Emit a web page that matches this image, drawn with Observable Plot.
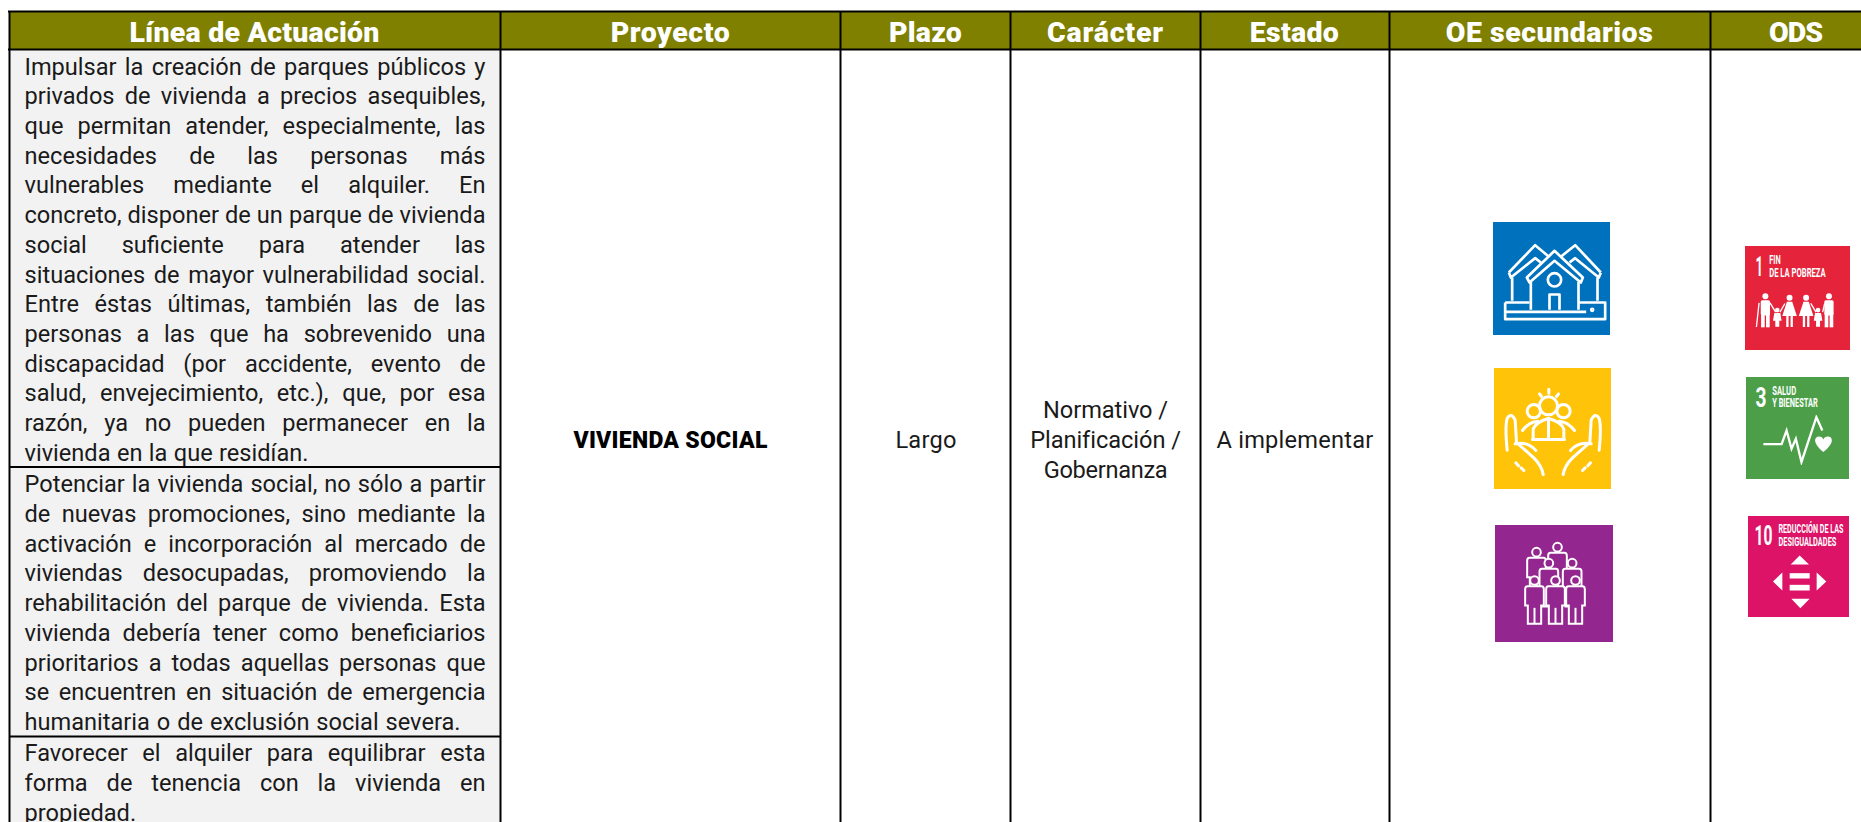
<!DOCTYPE html>
<html lang="es">
<head>
<meta charset="utf-8">
<script src="https://cdn.jsdelivr.net/npm/d3@7"></script>
<script src="https://cdn.jsdelivr.net/npm/@observablehq/plot@0.6"></script>
<style>
html,body{margin:0;padding:0;background:#fff;overflow:hidden}
svg{display:block}
</style>
</head>
<body>
<div id="chart"></div>
<script>
// ---- content ----
const columnas = ["Línea de Actuación","Proyecto","Plazo","Carácter","Estado","OE secundarios","ODS"];
const linea1 = [
"Impulsar la creación de parques públicos y",
"privados de vivienda a precios asequibles,",
"que permitan atender, especialmente, las",
"necesidades de las personas más",
"vulnerables mediante el alquiler. En",
"concreto, disponer de un parque de vivienda",
"social suficiente para atender las",
"situaciones de mayor vulnerabilidad social.",
"Entre éstas últimas, también las de las",
"personas a las que ha sobrevenido una",
"discapacidad (por accidente, evento de",
"salud, envejecimiento, etc.), que, por esa",
"razón, ya no pueden permanecer en la",
"vivienda en la que residían."];
const linea2 = [
"Potenciar la vivienda social, no sólo a partir",
"de nuevas promociones, sino mediante la",
"activación e incorporación al mercado de",
"viviendas desocupadas, promoviendo la",
"rehabilitación del parque de vivienda. Esta",
"vivienda debería tener como beneficiarios",
"prioritarios a todas aquellas personas que",
"se encuentren en situación de emergencia",
"humanitaria o de exclusión social severa."];
const linea3 = [
"Favorecer el alquiler para equilibrar esta",
"forma de tenencia con la vivienda en",
"propiedad."];
const proyecto = "VIVIENDA SOCIAL";
const plazo = "Largo";
const caracter = ["Normativo /","Planificación /","Gobernanza"];
const estado = "A implementar";
const ods = [["1","FIN","DE LA POBREZA"],["3","SALUD","Y BIENESTAR"],["10","REDUCCIÓN DE LAS","DESIGUALDADES"]];

// ---- layout ----
const W = 1861, H = 822;
const edges = [9,500,840,1010,1200,1389,1710,W];
const headTop = 11, headBottom = 49;
const rowLines = [466.5,736];
const headCenters = [254,670,925,1105,1294,1549,1795];
const headWidths = [250,119,73,116,89,207,54];
const FONT = "Roboto, 'Liberation Sans', sans-serif";
const NARROW = "'Liberation Sans Narrow','Roboto',sans-serif";
const bodySize = 23.6;
const textX = 24, textWidth = 461;

const canvas = document.createElement("canvas").getContext("2d");
const measure = (s, font) => { canvas.font = font; return canvas.measureText(s).width; };

// body lines with their baseline and target width
const lastWidths = {0:284, 1:436, 2:111};
const firstBase = [74,491.7,760.7], step = 29.72;
const bodyRows = [linea1,linea2,linea3].flatMap((ls,b)=>ls.map((t,k)=>({
  t, x:textX, y:firstBase[b]+k*step, w:k===ls.length-1?lastWidths[b]:textWidth
})));

// justify: word spacing reaches target width
const justify = (font) => (index, scales, values, dims, ctx, next) => {
  const g = next(index, scales, values, dims, ctx);
  d3.select(g).selectAll("text").each(function(){
    const row = bodyRows[d3.select(this).datum()], spaces = row.t.split(" ").length-1;
    const sp = spaces? (row.w-measure(row.t,font))/spaces : 0;
    this.setAttribute("word-spacing", sp.toFixed(2));
  });
  return g;
};
// fit: letter spacing reaches a target width
const fitLetters = (rows,font) => (index, scales, values, dims, ctx, next) => {
  const g = next(index, scales, values, dims, ctx);
  d3.select(g).selectAll("text").each(function(){
    const r = rows[d3.select(this).datum()];
    const ls = (r.w-measure(r.t,font))/Math.max(1,r.t.length-1);
    this.setAttribute("letter-spacing", ls.toFixed(2));
  });
  return g;
};
// squeeze: label scaled horizontally to its width
const squeeze = (rows,font) => (index, scales, values, dims, ctx, next) => {
  const g = next(index, scales, values, dims, ctx);
  d3.select(g).selectAll("text").each(function(){
    const r = rows[d3.select(this).datum()];
    const s = r.w/measure(r.t,font);
    this.setAttribute("transform",(this.getAttribute("transform")||"")+` scale(${s.toFixed(3)},1)`);
  });
  return g;
};

// header, cells
const headRows = columnas.map((t,i)=>({t,x:headCenters[i],y:41.5,w:headWidths[i]}));
const cellRows = [
  {t:plazo,x:925.5,y:447.5,w:61},
  {t:caracter[0],x:1105,y:417,w:125},
  {t:caracter[1],x:1105,y:447.5,w:150},
  {t:caracter[2],x:1105,y:477,w:124},
  {t:estado,x:1294.5,y:447.5,w:157}
];
const projRow = [{t:proyecto,x:670,y:447.5,w:194}];

// SDG labels
const odsNums = [
 {t:ods[0][0],x:1755,y:275,w:7.5},{t:ods[1][0],x:1755,y:406,w:11},{t:ods[2][0],x:1754,y:544,w:18}
];
const odsLabels = [
 {t:ods[0][1],x:1768.7,y:263,w:11.5},{t:ods[0][2],x:1768.7,y:276.5,w:56.5},
 {t:ods[1][1],x:1771.7,y:394,w:24},{t:ods[1][2],x:1771.7,y:406,w:45.5},
 {t:ods[2][1],x:1778,y:532.7,w:65},{t:ods[2][2],x:1778,y:545,w:58}
];

// icons
const person = (x,y,fill)=>`<g fill="${fill}" stroke="#fff" stroke-width="6"><circle cx="${x}" cy="${y}" r="13"/><path d="M${x-21} ${y+17}H${x+21}Q${x+28} ${y+17} ${x+28} ${y+26}V${y+75}H${x+20}V${y+130}H${x-20}V${y+75}H${x-28}V${y+26}Q${x-28} ${y+17} ${x-21} ${y+17}Z"/><path d="M${x} ${y+82}V${y+130}"/></g>`;
const hand = `<path d="M38 245C34 205 32 170 38 150Q50 130 62 155L66 222L118 268Q142 292 146 318M62 226Q100 218 124 246"/><path d="M64 283L72 292M80 298L88 306"/>`;
const svgURI = (w,h,inner)=>"data:image/svg+xml,"+encodeURIComponent(
 `<svg xmlns="http://www.w3.org/2000/svg" viewBox="0 0 ${w} ${h}"><defs><filter id="b" x="-5%" y="-5%" width="110%" height="110%"><feGaussianBlur stdDeviation="1.6"/></filter></defs><g filter="url(#b)">${inner}</g></svg>`);
const houseGlyph = `<g fill="none" stroke="#fff" stroke-width="8" stroke-linejoin="round">
<path d="M46 150L125 68L168 104M322 150L245 68L200 104M46 150L52 165L125 107L142 120M322 150L316 165L245 107L228 120"/>
<path d="M56 165V235M312 165V235"/>
<path d="M100 165L183 85L268 165L262 180L183 115L108 180Z"/>
<path d="M112 178V262M255 178V262"/>
<circle cx="183" cy="172" r="20"/><path d="M168 262V216H198V262"/>
<path d="M35 240H108M255 240H335V290H35V240"/><path d="M35 268H278"/><circle cx="296" cy="262" r="3"/></g>`;
const careGlyph = `<g fill="none" stroke="#fff" stroke-width="9" stroke-linecap="round" stroke-linejoin="round">
${hand}<g transform="translate(352 0) scale(-1 1)">${hand}</g>
<circle cx="162" cy="112" r="27"/><circle cx="118" cy="128" r="20"/><circle cx="207" cy="128" r="20"/>
<path d="M84 186Q104 160 130 158M240 186Q220 160 194 158M116 212V182Q125 160 162 150Q200 160 208 182V212M114 213H210"/>
<path d="M135 76L141 84M163 62V74M192 76L186 84"/><path d="M162 150V212"/></g>`;
const groupGlyph = [[123,80],[186,65],[230,113],[160,113],[117,165],[180,165],[240,165]].map(([x,y])=>person(x,y,"#93278f")).join("");
const manW = (x,y)=>`<g fill="#fff"><circle cx="${x}" cy="${y}" r="9"/><rect x="${x-14}" y="${y+12}" width="28" height="46" rx="5"/><rect x="${x-13}" y="${y+50}" width="11" height="44"/><rect x="${x+2}" y="${y+50}" width="11" height="44"/></g>`;
const womanW = (x,y)=>`<g fill="#fff"><circle cx="${x}" cy="${y}" r="9"/><path d="M${x-8} ${y+12}H${x+8}L${x+22} ${y+55}H${x-22}Z"/><rect x="${x-10}" y="${y+50}" width="7" height="38"/><rect x="${x+3}" y="${y+50}" width="7" height="38"/></g>`;
const childW = (x,y)=>`<g fill="#fff"><circle cx="${x}" cy="${y}" r="7"/><path d="M${x-9} ${y+9}H${x+9}L${x+13} ${y+32}H${x+6}V${y+50}H${x-6}V${y+32}H${x-13}Z"/></g>`;
const familyGlyph = manW(59,150)+childW(95,192)+womanW(132,155)+womanW(182,155)+childW(218,192)+manW(251,150)+
 `<g fill="none" stroke="#fff" stroke-width="4"><path d="M40 170L32 243M73 170L90 198M118 172L103 198M196 172L212 198M232 198L238 172"/></g>`;
const healthGlyph = `<g fill="none" stroke="#fff" stroke-width="7" stroke-linejoin="miter"><path d="M50 201H105L120 160L135 215L148 185L165 255L210 120L228 160"/></g>
<path fill="#fff" d="M231 225C195 195 205 178 218 178C225 178 229 182 231 187C233 182 238 178 245 178C258 178 268 195 231 225Z"/>`;
const arrowsGlyph = `<g fill="#fff"><path d="M126 144L153 117L181 144ZM128 247L155 275L183 247ZM73 195L101 168V222ZM233 195L204 168V222Z"/><rect x="123" y="170" width="60" height="16"/><rect x="123" y="205" width="60" height="17"/></g>`;

const iconos = [
 {x1:1493,x2:1610,y1:222,y2:335,fill:"#0071bc",src:svgURI(351,339,houseGlyph)},
 {x1:1494,x2:1611,y1:368,y2:489,fill:"#ffc40a",src:svgURI(351,363,careGlyph)},
 {x1:1495,x2:1613,y1:525,y2:642,fill:"#93278f",src:svgURI(354,351,groupGlyph)},
 {x1:1745,x2:1850,y1:246,y2:350,fill:"#e5243b",src:svgURI(315,314,familyGlyph)},
 {x1:1746,x2:1849,y1:377,y2:479,fill:"#4c9f48",src:svgURI(309,308,healthGlyph)},
 {x1:1748,x2:1849,y1:516,y2:617,fill:"#dd1367",src:svgURI(302,303,arrowsGlyph)}
];

const bodyFont = `${bodySize}px Roboto`;
const headFont = `900 28.5px Roboto`;
const projFont = `900 23px Roboto`;
const numFont = `700 28px ${NARROW}`;
const labelFont = `700 12px ${NARROW}`;

const chart = Plot.plot({
  width:W, height:H, margin:0,
  x:{domain:[0,W],range:[0,W],axis:null},
  y:{domain:[0,H],range:[0,H],axis:null},
  marks:[
    // fills
    Plot.rect([0],{x1:edges[0],x2:W,y1:headTop,y2:headBottom,fill:"#808000"}),
    Plot.rect([0],{x1:edges[0],x2:edges[1],y1:headBottom,y2:H,fill:"#f2f2f2"}),
    // icon squares + glyphs
    Plot.rect(iconos,{x1:"x1",x2:"x2",y1:"y1",y2:"y2",fill:"fill"}),
    Plot.image(iconos,{x:d=>(d.x1+d.x2)/2,y:d=>(d.y1+d.y2)/2,width:d=>d.x2-d.x1,height:d=>d.y2-d.y1,src:"src"}),
    // table lines
    Plot.ruleY([headTop,headBottom],{x1:edges[0]-1,x2:W,stroke:"#000",strokeWidth:2}),
    Plot.ruleX(edges.slice(0,7),{y1:headTop,y2:H,stroke:"#000",strokeWidth:2}),
    Plot.ruleY(rowLines,{x1:edges[0],x2:edges[1],stroke:"#000",strokeWidth:2}),
    // texts
    Plot.text(headRows,{x:"x",y:"y",text:"t",lineAnchor:"bottom",textAnchor:"middle",fill:"#fff",fontFamily:FONT,fontSize:28.5,fontWeight:900,render:fitLetters(headRows,headFont)}),
    Plot.text(bodyRows,{x:"x",y:"y",text:"t",lineAnchor:"bottom",textAnchor:"start",fill:"#1a1a1a",fontFamily:FONT,fontSize:bodySize,render:justify(bodyFont)}),
    Plot.text(cellRows,{x:"x",y:"y",text:"t",lineAnchor:"bottom",textAnchor:"middle",fill:"#1a1a1a",fontFamily:FONT,fontSize:bodySize,render:fitLetters(cellRows,bodyFont)}),
    Plot.text(projRow,{x:"x",y:"y",text:"t",lineAnchor:"bottom",textAnchor:"middle",fill:"#000",fontFamily:FONT,fontSize:23,fontWeight:900,render:fitLetters(projRow,projFont)}),
    Plot.text(odsNums,{x:"x",y:"y",text:"t",lineAnchor:"bottom",textAnchor:"start",fill:"#fff",fontFamily:NARROW,fontSize:28,fontWeight:700,render:squeeze(odsNums,numFont)}),
    Plot.text(odsLabels,{x:"x",y:"y",text:"t",lineAnchor:"bottom",textAnchor:"start",fill:"#fff",fontFamily:NARROW,fontSize:12,fontWeight:700,render:squeeze(odsLabels,labelFont)})
  ]
});
document.getElementById("chart").append(chart);
</script>
</body>
</html>
